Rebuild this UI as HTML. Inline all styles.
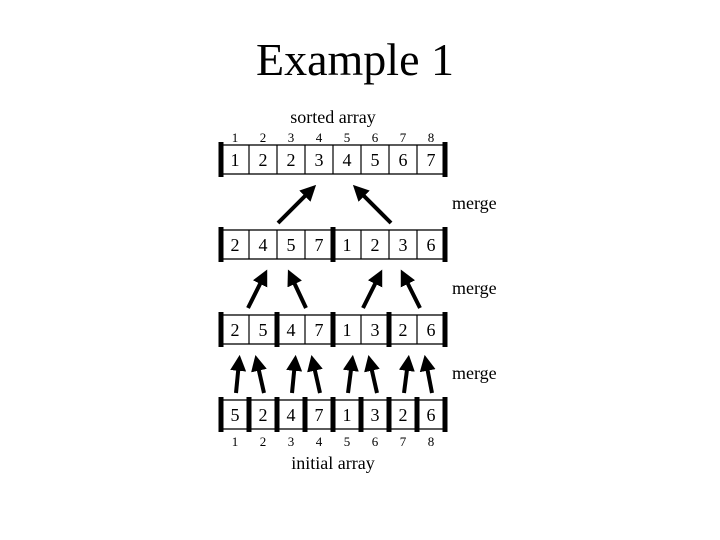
<!DOCTYPE html>
<html><head><meta charset="utf-8"><style>
html,body{margin:0;padding:0;background:#fff;}
svg{display:block;font-family:"Liberation Serif",serif;}
</style></head><body>
<svg width="720" height="540" viewBox="0 0 720 540" xmlns="http://www.w3.org/2000/svg">
<defs>
<marker id="ah" markerWidth="4" markerHeight="4" refX="2.2" refY="2" orient="auto" markerUnits="strokeWidth">
<path d="M0,0 L4,2 L0,4 Z" fill="#000"/>
</marker>
</defs>
<text x="355" y="75" font-size="46" text-anchor="middle">Example 1</text>
<text x="333" y="123" font-size="18" text-anchor="middle">sorted array</text>
<g font-size="13" text-anchor="middle">
<text x="235" y="142">1</text><text x="263" y="142">2</text><text x="291" y="142">3</text><text x="319" y="142">4</text><text x="347" y="142">5</text><text x="375" y="142">6</text><text x="403" y="142">7</text><text x="431" y="142">8</text>
<text x="235" y="446">1</text><text x="263" y="446">2</text><text x="291" y="446">3</text><text x="319" y="446">4</text><text x="347" y="446">5</text><text x="375" y="446">6</text><text x="403" y="446">7</text><text x="431" y="446">8</text>
</g>
<text x="333" y="469" font-size="18" text-anchor="middle">initial array</text>
<g font-size="18">
<text x="452" y="209">merge</text><text x="452" y="294">merge</text><text x="452" y="379">merge</text>
</g>
<g id="rows" stroke="#000" fill="none">
<!-- row boxes -->
<rect x="221" y="145" width="224" height="29" stroke-width="1.3"/>
<rect x="221" y="230" width="224" height="29" stroke-width="1.3"/>
<rect x="221" y="315" width="224" height="29" stroke-width="1.3"/>
<rect x="221" y="400" width="224" height="29" stroke-width="1.3"/>
<g stroke-width="1.2">
<path d="M249,145v29M277,145v29M305,145v29M333,145v29M361,145v29M389,145v29M417,145v29"/>
<path d="M249,230v29M277,230v29M305,230v29M361,230v29M389,230v29M417,230v29"/>
<path d="M249,315v29M305,315v29M361,315v29M417,315v29"/>
</g>
<g stroke-width="5">
<path d="M221,142v35M445,142v35"/>
<path d="M221,227v35M333,227v35M445,227v35"/>
<path d="M221,312v35M277,312v35M333,312v35M389,312v35M445,312v35"/>
<path d="M221,397v35M249,397v35M277,397v35M305,397v35M333,397v35M361,397v35M389,397v35M417,397v35M445,397v35"/>
</g>
</g>
<g font-size="18" text-anchor="middle">
<text x="235" y="166">1</text><text x="263" y="166">2</text><text x="291" y="166">2</text><text x="319" y="166">3</text><text x="347" y="166">4</text><text x="375" y="166">5</text><text x="403" y="166">6</text><text x="431" y="166">7</text>
<text x="235" y="251">2</text><text x="263" y="251">4</text><text x="291" y="251">5</text><text x="319" y="251">7</text><text x="347" y="251">1</text><text x="375" y="251">2</text><text x="403" y="251">3</text><text x="431" y="251">6</text>
<text x="235" y="336">2</text><text x="263" y="336">5</text><text x="291" y="336">4</text><text x="319" y="336">7</text><text x="347" y="336">1</text><text x="375" y="336">3</text><text x="403" y="336">2</text><text x="431" y="336">6</text>
<text x="235" y="421">5</text><text x="263" y="421">2</text><text x="291" y="421">4</text><text x="319" y="421">7</text><text x="347" y="421">1</text><text x="375" y="421">3</text><text x="403" y="421">2</text><text x="431" y="421">6</text>
</g>
<g stroke="#000" stroke-width="4" marker-end="url(#ah)">
<line x1="278" y1="223" x2="311" y2="190"/>
<line x1="391" y1="223" x2="358" y2="190"/>
<line x1="248" y1="308" x2="264" y2="276"/>
<line x1="306" y1="308" x2="291" y2="276"/>
<line x1="363" y1="308" x2="379" y2="276"/>
<line x1="420" y1="308" x2="404" y2="276"/>
<line x1="236" y1="393" x2="239" y2="362"/>
<line x1="264" y1="393" x2="257" y2="362"/>
<line x1="292" y1="393" x2="295" y2="362"/>
<line x1="320" y1="393" x2="313" y2="362"/>
<line x1="348" y1="393" x2="352" y2="362"/>
<line x1="377" y1="393" x2="370" y2="362"/>
<line x1="404" y1="393" x2="408" y2="362"/>
<line x1="432" y1="393" x2="426" y2="362"/>
</g>
</svg>
</body></html>
